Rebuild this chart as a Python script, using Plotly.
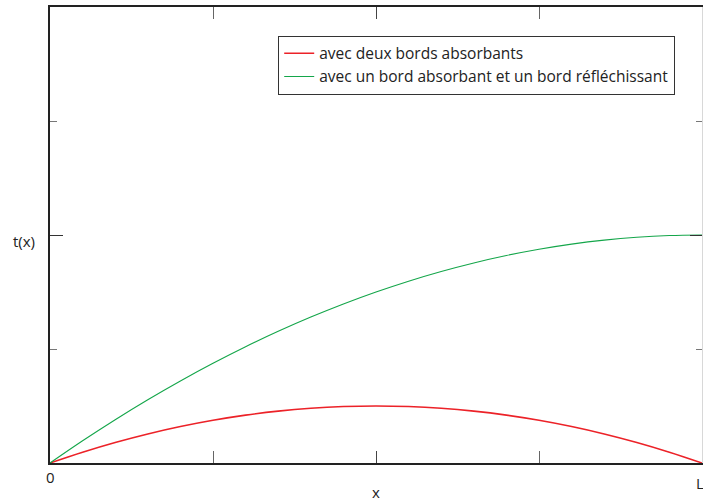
import plotly.graph_objects as go

# Position along the segment, in units of L
x_pos = [0.0, 0.05, 0.10, 0.15, 0.20, 0.25, 0.30, 0.35, 0.40, 0.45, 0.50,
         0.55, 0.60, 0.65, 0.70, 0.75, 0.80, 0.85, 0.90, 0.95, 1.0]

# Mean exit time, two absorbing boundaries
t_two_absorbing = [0.0, 0.095, 0.18, 0.255, 0.32, 0.375, 0.42, 0.455, 0.48, 0.495, 0.5,
                   0.495, 0.48, 0.455, 0.42, 0.375, 0.32, 0.255, 0.18, 0.095, 0.0]

# Mean exit time, one absorbing and one reflecting boundary
t_absorb_reflect = [0.0, 0.195, 0.38, 0.555, 0.72, 0.875, 1.02, 1.155, 1.28, 1.395, 1.5,
                    1.595, 1.68, 1.755, 1.82, 1.875, 1.92, 1.955, 1.98, 1.995, 2.0]

names = ["avec deux bords absorbants",
         "avec un bord absorbant et un bord réfléchissant"]

x_major = [0.5]
x_minor = [0.25, 0.75]
y_major = [2]
y_minor = [1, 3]

FONT = "Open Sans, Liberation Sans, sans-serif"
AXIS = "#222222"

fig = go.Figure()
fig.add_trace(go.Scatter(x=x_pos, y=t_two_absorbing, mode="lines", name=names[0],
                         line=dict(color="#ec2228", width=1.6, shape="spline")))
fig.add_trace(go.Scatter(x=x_pos, y=t_absorb_reflect, mode="lines", name=names[1],
                         line=dict(color="#14a64a", width=1.1, shape="spline")))

fig.update_layout(
    width=703, height=502,
    margin=dict(l=50, r=1, t=7, b=39),
    paper_bgcolor="white", plot_bgcolor="white",
    font=dict(family=FONT, size=14, color="#222222"),
    showlegend=True,
    legend=dict(x=0.35, y=0.937, xanchor="left", yanchor="top",
                bgcolor="rgba(255,255,255,0)", bordercolor="#333333", borderwidth=1,
                font=dict(size=15.5, family=FONT), tracegroupgap=0,
                itemwidth=30),
    xaxis=dict(range=[0, 1], showgrid=False, zeroline=False,
               showline=True, linecolor=AXIS, linewidth=2, mirror="allticks",
               ticks="inside", tickvals=x_major, ticklen=12, tickcolor="#444444",
               showticklabels=False,
               minor=dict(tickvals=x_minor, ticks="inside", ticklen=6, tickcolor="#666666")),
    yaxis=dict(range=[0, 4], showgrid=False, zeroline=False,
               showline=True, linecolor=AXIS, linewidth=2,
               ticks="inside", tickvals=y_major, ticklen=13, tickcolor="#333333",
               showticklabels=False,
               minor=dict(tickvals=y_minor, ticks="inside", ticklen=7, tickcolor="#777777")),
    yaxis2=dict(range=[0, 4], overlaying="y", side="right", showgrid=False, zeroline=False,
                showline=True, linecolor="#d8d8d8", linewidth=1,
                ticks="inside", tickvals=y_major, ticklen=12, tickcolor="#333333",
                showticklabels=False,
                minor=dict(tickvals=y_minor, ticks="inside", ticklen=6, tickcolor="#777777")),
)

# invisible trace to activate the right-hand axis
fig.add_trace(go.Scatter(x=[0], y=[0], yaxis="y2", mode="markers",
                         marker=dict(opacity=0), showlegend=False, hoverinfo="skip"))

# axis labels
fig.add_annotation(x=0, y=0, xref="x", yref="y", text="0", showarrow=False,
                   yshift=-14, font=dict(size=15))
fig.add_annotation(x=1, y=0, xref="x", yref="y", text="L", showarrow=False,
                   xshift=-2, yshift=-20, font=dict(size=15))
fig.add_annotation(x=0.5, y=0, xref="x", yref="y", text="x", showarrow=False,
                   yshift=-29, font=dict(size=15))
fig.add_annotation(x=0, y=2, xref="x", yref="y", text="t(x)", showarrow=False,
                   xshift=-26, yshift=-6, font=dict(size=15))

fig.write_html("out.html")
